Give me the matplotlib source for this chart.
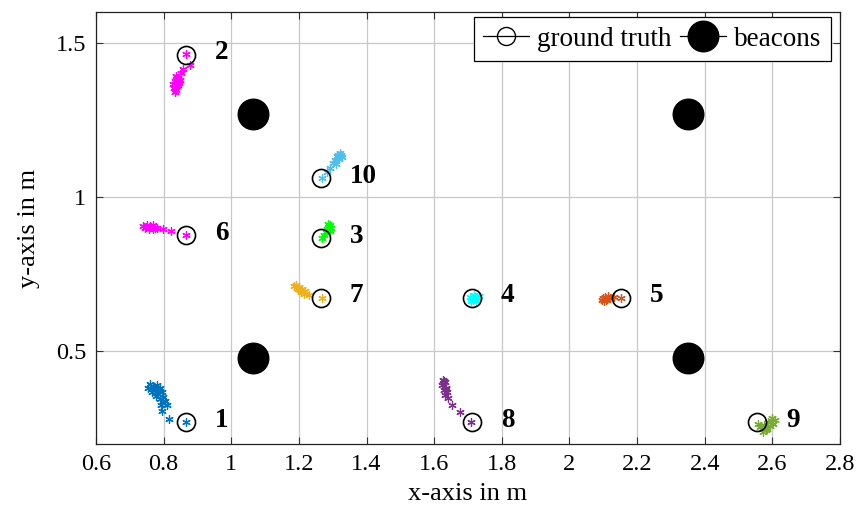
import matplotlib
matplotlib.use("Agg")
import matplotlib.pyplot as plt
from matplotlib.lines import Line2D

plt.rcParams['font.family'] = ['Liberation Serif', 'DejaVu Serif']

# ground truth positions
gt_ids = ['1', '2', '3', '4', '5', '6', '7', '8', '9', '10']
gt_x = [0.866, 0.866, 1.266, 1.712, 2.153, 0.866, 1.266, 1.712, 2.556, 1.266]
gt_y = [0.270, 1.462, 0.866, 0.673, 0.673, 0.876, 0.673, 0.270, 0.270, 1.061]

# beacons
beacon_x = [1.065, 1.065, 2.350, 2.350]
beacon_y = [1.270, 0.480, 1.270, 0.480]

# estimated positions per tag
est_x = {
    '1': [0.760, 0.769, 0.781, 0.789, 0.775, 0.795, 0.784, 0.798, 0.804, 0.792, 0.810, 0.795, 0.816, 0.866,
          0.754, 0.766, 0.772, 0.786, 0.778, 0.790],
    '2': [0.866, 0.878, 0.857, 0.851, 0.837, 0.843, 0.834, 0.846, 0.840, 0.831, 0.837, 0.843, 0.849, 0.828,
          0.834, 0.839, 0.845, 0.833],
    '6': [0.739, 0.751, 0.763, 0.775, 0.757, 0.745, 0.769, 0.780, 0.798, 0.822, 0.866, 0.748, 0.760, 0.770],
    '10': [1.322, 1.313, 1.328, 1.308, 1.319, 1.302, 1.311, 1.292, 1.283, 1.269, 1.316, 1.324],
    '3': [1.289, 1.296, 1.283, 1.293, 1.286, 1.280, 1.275, 1.269, 1.291],
    '7': [1.192, 1.201, 1.210, 1.219, 1.198, 1.207, 1.216, 1.186, 1.231, 1.269, 1.195, 1.204],
    '4': [1.707, 1.719, 1.728, 1.716, 1.725, 1.734, 1.709, 1.722],
    '8': [1.627, 1.633, 1.624, 1.636, 1.630, 1.639, 1.633, 1.641, 1.653, 1.677, 1.710, 1.629, 1.635],
    '5': [2.097, 2.106, 2.115, 2.103, 2.112, 2.121, 2.133, 2.153, 2.100, 2.109],
    '9': [2.564, 2.576, 2.588, 2.600, 2.609, 2.594, 2.582, 2.571, 2.559, 2.603, 2.585, 2.568],
}
est_y = {
    '1': [0.396, 0.387, 0.390, 0.380, 0.374, 0.367, 0.361, 0.351, 0.338, 0.328, 0.325, 0.308, 0.280, 0.270,
          0.380, 0.367, 0.384, 0.372, 0.355, 0.345],
    '2': [1.464, 1.429, 1.416, 1.403, 1.393, 1.383, 1.377, 1.371, 1.361, 1.354, 1.348, 1.364, 1.380, 1.367,
          1.341, 1.387, 1.375, 1.358],
    '6': [0.906, 0.909, 0.903, 0.900, 0.896, 0.900, 0.909, 0.900, 0.896, 0.890, 0.877, 0.904, 0.907, 0.898],
    '10': [1.142, 1.133, 1.129, 1.120, 1.123, 1.110, 1.107, 1.094, 1.081, 1.061, 1.137, 1.136],
    '3': [0.906, 0.900, 0.896, 0.890, 0.913, 0.887, 0.877, 0.867, 0.909],
    '7': [0.715, 0.709, 0.702, 0.696, 0.702, 0.693, 0.686, 0.712, 0.683, 0.673, 0.707, 0.699],
    '4': [0.676, 0.683, 0.673, 0.667, 0.664, 0.680, 0.664, 0.676],
    '8': [0.409, 0.400, 0.390, 0.383, 0.374, 0.367, 0.358, 0.348, 0.325, 0.303, 0.270, 0.403, 0.378],
    '5': [0.667, 0.676, 0.680, 0.663, 0.670, 0.673, 0.676, 0.673, 0.673, 0.666],
    '9': [0.254, 0.261, 0.270, 0.283, 0.277, 0.257, 0.244, 0.238, 0.264, 0.264, 0.250, 0.248],
}
est_colors = {
    '1': '#0072bd', '2': '#ff00ff', '3': '#00ff00', '4': '#00ffff', '5': '#d95319',
    '6': '#ff00ff', '7': '#edb120', '8': '#7e2f8e', '9': '#77ac30', '10': '#4dbeee',
}

xticks = [0.6, 0.8, 1.0, 1.2, 1.4, 1.6, 1.8, 2.0, 2.2, 2.4, 2.6, 2.8]
xticklabels = ['0.6', '0.8', '1', '1.2', '1.4', '1.6', '1.8', '2', '2.2', '2.4', '2.6', '2.8']
yticks = [0.5, 1.0, 1.5]
yticklabels = ['0.5', '1', '1.5']

fig = plt.figure(figsize=(8.65, 5.12), dpi=100)
ax = fig.add_axes([96 / 865, 68 / 512, 744 / 865, 432 / 512])

ax.set_xlim(0.6, 2.8)
ax.set_ylim(0.2, 1.6)
ax.set_xticks(xticks)
ax.set_xticklabels(xticklabels)
ax.set_yticks(yticks)
ax.set_yticklabels(yticklabels)
ax.grid(True, color='#c8c8c8', linewidth=0.9)
ax.set_axisbelow(True)
ax.tick_params(direction='in', length=5, width=0.8, top=True, right=True,
               labelsize=17.5, pad=7, color='#333333')
for s in ax.spines.values():
    s.set_color('#222222')
    s.set_linewidth(0.9)

for k in gt_ids:
    ax.plot(est_x[k], est_y[k], linestyle='none', marker=(6, 2, 0), markersize=6,
            markeredgewidth=0.9, color=est_colors[k], zorder=3)

ax.plot(gt_x, gt_y, linestyle='none', marker='o', markersize=13, markerfacecolor='none',
        markeredgecolor='black', markeredgewidth=1.2, zorder=4)
ax.plot(beacon_x, beacon_y, linestyle='none', marker='o', markersize=22, color='black', zorder=4)

for k, x, y in zip(gt_ids, gt_x, gt_y):
    ax.text(x + 0.085, y - 0.014, k, fontsize=19.5, fontweight='bold', ha='left', va='baseline')

ax.set_xlabel('x-axis in m', fontsize=19, labelpad=6)
ax.set_ylabel('y-axis in m', fontsize=19, labelpad=11)

handles = [
    Line2D([], [], color='black', linewidth=0.9, marker='o', markersize=13,
           markerfacecolor='none', markeredgewidth=1.0),
    Line2D([], [], color='black', linewidth=0.9, marker='o', markersize=22),
]
leg = ax.legend(handles, ['ground truth', 'beacons'], loc='upper right', ncol=2,
                bbox_to_anchor=(0.988, 0.988), borderaxespad=0, fontsize=19.5,
                fancybox=False, framealpha=1, edgecolor='black', handlelength=1.7,
                handletextpad=0.3, columnspacing=0.3, borderpad=0.35)
leg.get_frame().set_linewidth(0.9)

fig.savefig('out.png', dpi=100)
